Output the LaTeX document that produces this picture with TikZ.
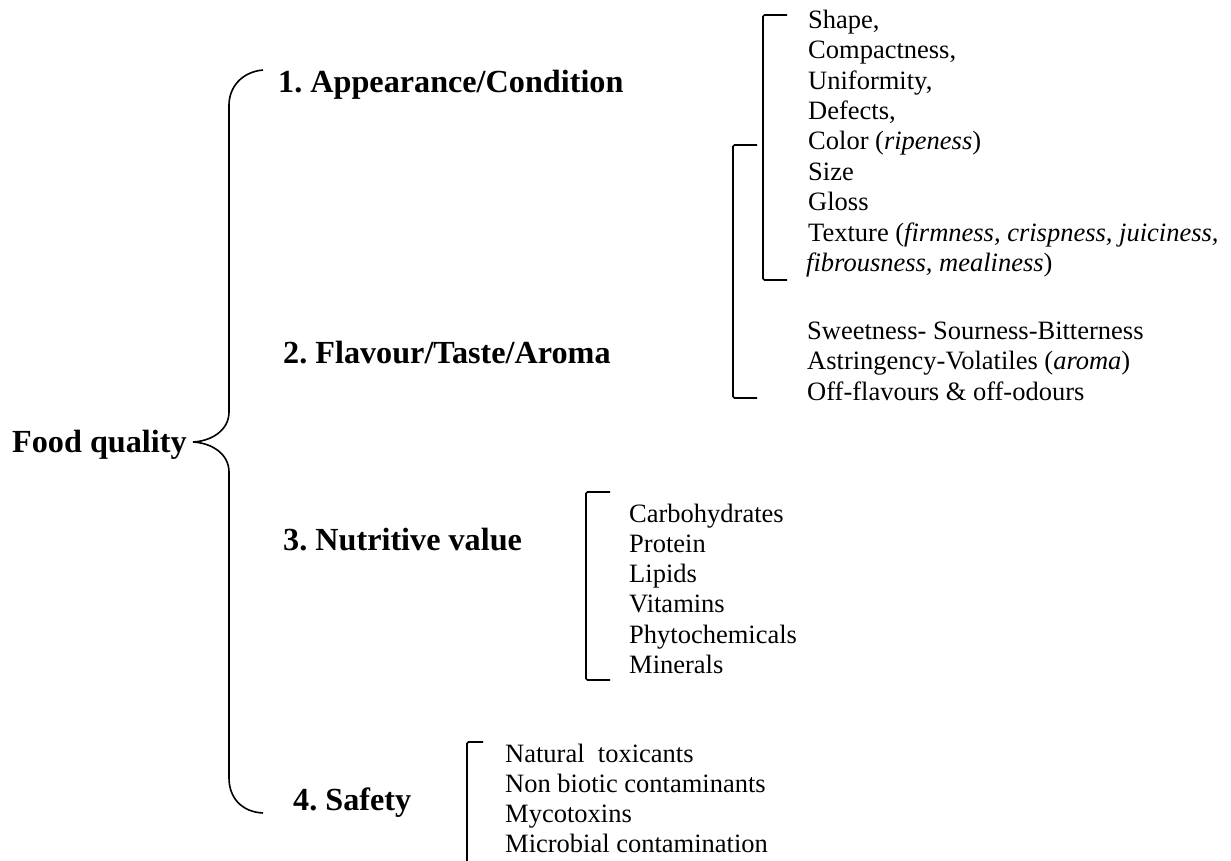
\documentclass[tikz,border=0pt]{standalone}
\usepackage{fontspec}
\setmainfont{Liberation Serif}
\frenchspacing
\begin{document}
\begin{tikzpicture}[x=1pt,y=-1pt,
  head/.style={anchor=base west,inner sep=0pt,font=\fontsize{32.2}{36}\selectfont\bfseries},
  item/.style={anchor=base west,inner sep=0pt,font=\fontsize{26.5}{30}\selectfont},
  brk/.style={line width=1.6pt,rounded corners=1.5pt},
  brace/.style={line width=1.6pt}]
\useasboundingbox (0,0) rectangle (1231,861);
% main label and headings
\node[head] (fq) at (12,452) {Food quality};
\node[head] (h1) at (278,93) {1. Appearance/Condition};
\node[head] (h2) at (283,363) {2. Flavour/Taste/Aroma};
\node[head] (h3) at (283,550) {3. Nutritive value};
\node[head] (h4) at (293,810) {4. Safety};
% brace
\coordinate (btop) at (263,70);
\coordinate (bbot) at (263,813);
\coordinate (btip) at (193,442);
\draw[brace] (btop) .. controls (241,72) and (229,88) .. (229,105)
  -- (229,412) .. controls (229,430) and (212,441) .. (btip)
  .. controls (212,443) and (229,454) .. (229,472)
  -- (229,778) .. controls (229,798) and (242,812) .. (bbot);
% appearance list
\node[item] (a1) at (808,28.3) {Shape,};
\node[item] (a2) at (808,58.7) {Compactness,};
\node[item] (a3) at (808,89.1) {Uniformity,};
\node[item] (a4) at (808,119.5) {Defects,};
\node[item] (a5) at (808,149.9) {Color (\textit{ripeness})};
\node[item] (a6) at (808,180.3) {Size};
\node[item] (a7) at (808,210.7) {Gloss};
\node[item] (a8) at (808,241.1) {Texture (\textit{firmness, crispness, juiciness,}};
\node[item] (a9) at (806,271.5) {\textit{fibrousness, mealiness})};
\coordinate (ba1) at (787,15);
\coordinate (ba2) at (787,280);
\draw[brk] (ba1) -- (763,15) -- (763,280) -- (ba2);
% flavour list
\node[item] (f1) at (807,339) {Sweetness- Sourness-Bitterness};
\node[item] (f2) at (807,369.5) {Astringency-Volatiles (\textit{aroma})};
\node[item] (f3) at (807,400) {Off-flavours \& off-odours};
\coordinate (bf1) at (757,145);
\coordinate (bf2) at (757,398);
\draw[brk] (bf1) -- (733,145) -- (733,398) -- (bf2);
% nutritive list
\node[item] (n1) at (629,522) {Carbohydrates};
\node[item] (n2) at (629,552.3) {Protein};
\node[item] (n3) at (629,582.6) {Lipids};
\node[item] (n4) at (629,612.9) {Vitamins};
\node[item] (n5) at (629,643.2) {Phytochemicals};
\node[item] (n6) at (629,673.5) {Minerals};
\coordinate (bn1) at (610,492);
\coordinate (bn2) at (610,680);
\draw[brk] (bn1) -- (586,492) -- (586,680) -- (bn2);
% safety list
\node[item] (s1) at (505,762) {Natural\ \ toxicants};
\node[item] (s2) at (505,792.3) {Non biotic contaminants};
\node[item] (s3) at (505,822.6) {Mycotoxins};
\node[item] (s4) at (505,852.9) {Microbial contamination};
\coordinate (bs1) at (483,742);
\coordinate (bs2) at (467,861);
\draw[brk] (bs1) -- (467,742) -- (bs2);
\end{tikzpicture}
\end{document}
